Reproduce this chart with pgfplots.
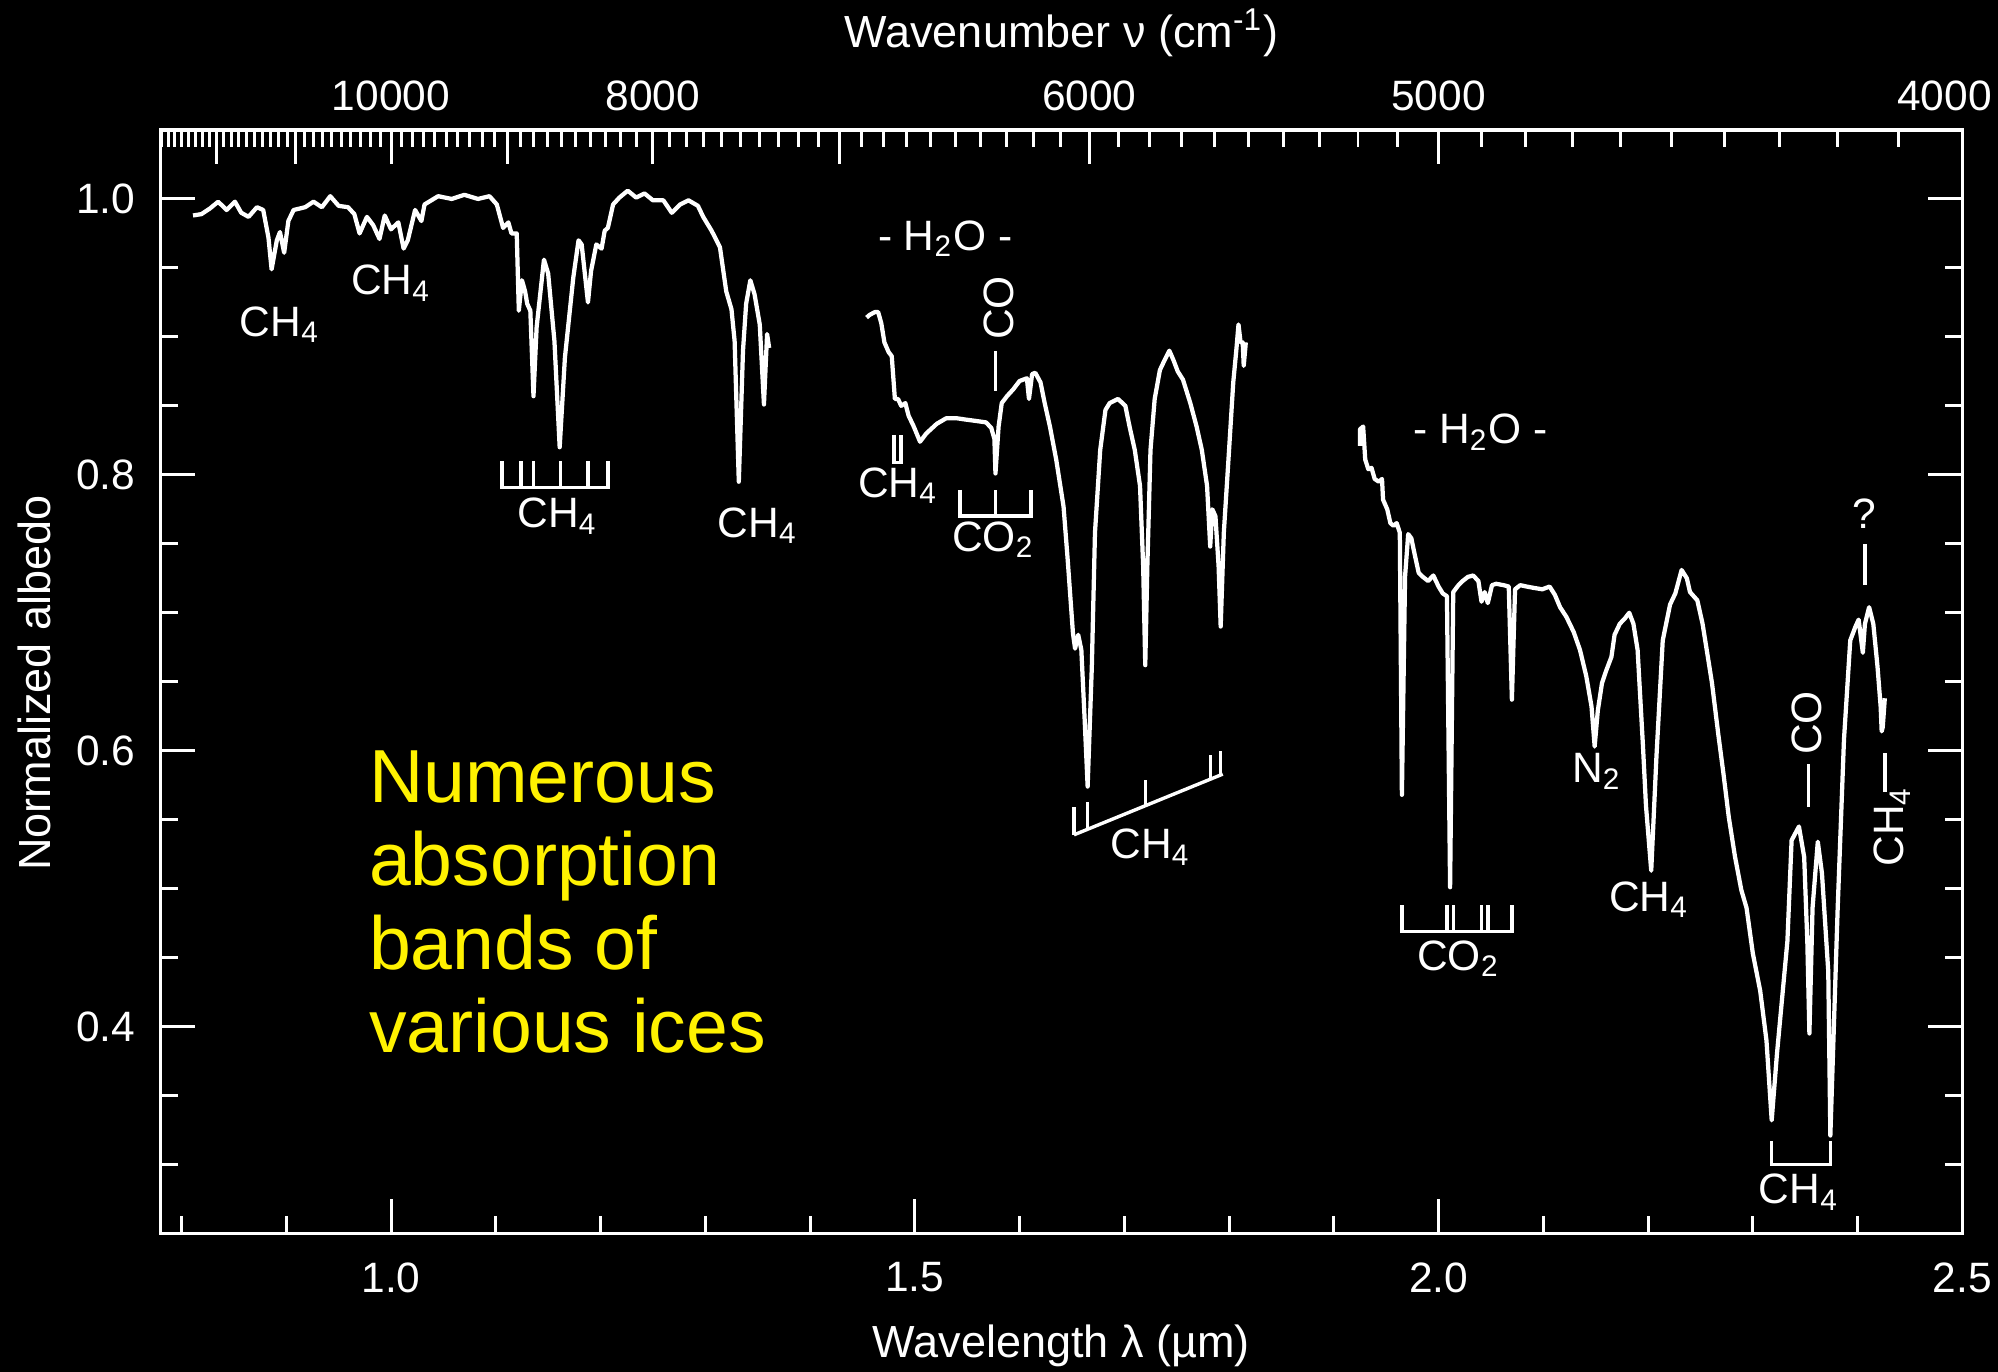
\documentclass[border=0pt]{standalone}
\usepackage{fontspec}
\setmainfont{Liberation Sans}
\usepackage{pgfplots}
\pgfplotsset{compat=1.18}
\begin{document}%
\def\minorlist{2.5}%
\foreach \n in {41,...,128}{\pgfmathsetmacro\lam{100/\n}\xdef\minorlist{\minorlist,\lam}}%
\begin{tikzpicture}[font=\fontsize{10}{12}\selectfont]
\useasboundingbox (0,0) rectangle (470.4pt,322.8pt);
\fill[black] (-2pt,-2pt) rectangle (472.4pt,324.8pt);
\pgfplotsset{
  myaxis/.style={
    at={(37.8pt,32.4pt)}, anchor=south west,
    scale only axis, width=424.2pt, height=259.8pt,
    xmin=0.78, xmax=2.5, ymin=0.25, ymax=1.05,
    axis line style={white, line width=0.8pt},
    tick style={white, line width=0.7pt},
    major tick length=8pt, minor tick length=4pt,
    tick align=inside,
    ticklabel style={font=\fontsize{10}{12}\selectfont, text=white},
  }
}
\begin{axis}[myaxis,
  xtick={1.0,1.5,2.0,2.5}, xticklabels={1.0,1.5,2.0,2.5},
  minor xtick={0.8,0.9,1.1,1.2,1.3,1.4,1.6,1.7,1.8,1.9,2.1,2.2,2.3,2.4},
  xtick pos=left, xticklabel pos=left,
  ytick={0.4,0.6,0.8,1.0}, yticklabels={0.4,0.6,0.8,1.0},
  minor ytick={0.3,0.35,0.45,0.5,0.55,0.65,0.7,0.75,0.85,0.9,0.95},
  ytick pos=both, yticklabel pos=left,
  xticklabel style={yshift=-3.3pt},
  yticklabel style={xshift=-2.4pt},
  clip=false,
]
\addplot[white, line width=1.0pt, line join=round] table {
0.811 0.988
0.819 0.989
0.827 0.993
0.835 0.998
0.843 0.992
0.851 0.998
0.857 0.990
0.864 0.987
0.872 0.994
0.878 0.992
0.883 0.972
0.886 0.949
0.891 0.970
0.894 0.976
0.898 0.961
0.902 0.984
0.907 0.992
0.918 0.994
0.926 0.998
0.934 0.994
0.942 1.002
0.950 0.995
0.959 0.994
0.965 0.989
0.970 0.975
0.977 0.987
0.983 0.981
0.989 0.971
0.994 0.988
1.000 0.978
1.007 0.983
1.012 0.964
1.016 0.970
1.023 0.992
1.029 0.984
1.032 0.996
1.045 1.002
1.058 1.000
1.070 1.003
1.083 1.000
1.094 1.002
1.101 0.996
1.107 0.979
1.112 0.983
1.115 0.975
1.120 0.975
1.122 0.919
1.125 0.941
1.128 0.933
1.130 0.924
1.133 0.919
1.136 0.857
1.139 0.907
1.146 0.956
1.150 0.946
1.156 0.897
1.161 0.820
1.166 0.885
1.174 0.943
1.179 0.970
1.182 0.967
1.188 0.925
1.191 0.948
1.196 0.967
1.201 0.964
1.204 0.977
1.207 0.979
1.212 0.996
1.218 1.001
1.226 1.006
1.234 1.001
1.242 1.004
1.250 0.999
1.260 0.999
1.268 0.990
1.276 0.996
1.284 0.999
1.293 0.995
1.298 0.987
1.306 0.977
1.314 0.965
1.320 0.933
1.325 0.920
1.328 0.897
1.332 0.795
1.336 0.890
1.339 0.924
1.343 0.941
1.347 0.931
1.352 0.909
1.356 0.851
1.359 0.902
1.361 0.892
};
\addplot[white, line width=1.0pt, line join=round] table {
1.454 0.914
1.457 0.916
1.462 0.918
1.465 0.918
1.468 0.910
1.471 0.896
1.475 0.889
1.478 0.886
1.481 0.855
1.484 0.855
1.487 0.850
1.491 0.852
1.494 0.843
1.499 0.835
1.505 0.824
1.511 0.830
1.521 0.837
1.530 0.841
1.540 0.841
1.549 0.840
1.559 0.839
1.568 0.838
1.573 0.834
1.576 0.826
1.577 0.801
1.580 0.835
1.583 0.852
1.588 0.857
1.594 0.862
1.600 0.868
1.607 0.870
1.609 0.855
1.612 0.873
1.615 0.874
1.620 0.867
1.624 0.852
1.629 0.835
1.635 0.811
1.642 0.777
1.646 0.738
1.651 0.685
1.653 0.674
1.656 0.684
1.659 0.673
1.662 0.625
1.665 0.574
1.669 0.661
1.672 0.758
1.677 0.818
1.682 0.847
1.686 0.852
1.694 0.855
1.701 0.850
1.705 0.835
1.710 0.818
1.715 0.792
1.718 0.734
1.720 0.662
1.722 0.734
1.725 0.818
1.729 0.855
1.734 0.876
1.739 0.884
1.743 0.890
1.747 0.883
1.751 0.875
1.756 0.869
1.763 0.852
1.769 0.835
1.774 0.818
1.779 0.792
1.782 0.748
1.784 0.775
1.787 0.770
1.790 0.734
1.792 0.690
1.795 0.758
1.800 0.818
1.804 0.867
1.807 0.891
1.809 0.909
1.811 0.896
1.813 0.896
1.814 0.879
1.816 0.896
};
\addplot[white, line width=1.0pt, line join=round] table {
1.925 0.821
1.925 0.833
1.928 0.835
1.930 0.811
1.933 0.804
1.936 0.805
1.939 0.797
1.943 0.795
1.946 0.797
1.947 0.782
1.951 0.775
1.954 0.765
1.957 0.763
1.960 0.765
1.963 0.758
1.965 0.568
1.968 0.726
1.971 0.757
1.974 0.754
1.977 0.743
1.981 0.729
1.985 0.726
1.990 0.723
1.995 0.727
2.000 0.719
2.004 0.714
2.008 0.712
2.011 0.501
2.014 0.715
2.019 0.720
2.023 0.723
2.028 0.726
2.033 0.727
2.038 0.723
2.041 0.708
2.044 0.715
2.047 0.707
2.051 0.720
2.055 0.721
2.062 0.720
2.067 0.719
2.070 0.637
2.073 0.717
2.078 0.720
2.084 0.719
2.091 0.718
2.099 0.717
2.106 0.719
2.111 0.713
2.116 0.704
2.122 0.697
2.129 0.686
2.135 0.673
2.141 0.654
2.146 0.632
2.149 0.603
2.152 0.629
2.156 0.649
2.160 0.658
2.165 0.668
2.168 0.684
2.173 0.692
2.178 0.696
2.182 0.700
2.186 0.692
2.190 0.673
2.195 0.605
2.198 0.560
2.203 0.513
2.208 0.596
2.214 0.680
2.221 0.706
2.226 0.714
2.232 0.731
2.237 0.725
2.240 0.715
2.247 0.709
2.252 0.692
2.256 0.673
2.261 0.649
2.267 0.612
2.272 0.583
2.277 0.552
2.283 0.523
2.289 0.499
2.294 0.486
2.300 0.453
2.307 0.426
2.313 0.390
2.318 0.332
2.323 0.380
2.333 0.462
2.337 0.535
2.344 0.545
2.349 0.523
2.352 0.462
2.354 0.395
2.357 0.486
2.362 0.534
2.366 0.511
2.372 0.440
2.374 0.321
2.381 0.486
2.387 0.608
2.393 0.680
2.398 0.690
2.401 0.695
2.403 0.683
2.405 0.671
2.407 0.692
2.411 0.704
2.415 0.692
2.419 0.661
2.422 0.632
2.423 0.614
2.424 0.617
2.426 0.638
};
% annotations
\draw[white, line width=0.8pt] (axis cs:1.106,0.810) -- (axis cs:1.106,0.791) -- (axis cs:1.207,0.791) -- (axis cs:1.207,0.810);
\draw[white, line width=0.8pt] (axis cs:1.124,0.791) -- (axis cs:1.124,0.810);
\draw[white, line width=0.8pt] (axis cs:1.136,0.791) -- (axis cs:1.136,0.810);
\draw[white, line width=0.8pt] (axis cs:1.162,0.791) -- (axis cs:1.162,0.810);
\draw[white, line width=0.8pt] (axis cs:1.188,0.791) -- (axis cs:1.188,0.810);
\draw[white, line width=0.8pt] (axis cs:1.480,0.829) -- (axis cs:1.480,0.809) -- (axis cs:1.487,0.809) -- (axis cs:1.487,0.829);
\draw[white, line width=0.8pt] (axis cs:1.543,0.789) -- (axis cs:1.543,0.770) -- (axis cs:1.611,0.770) -- (axis cs:1.611,0.789);
\draw[white, line width=0.8pt] (axis cs:1.577,0.770) -- (axis cs:1.577,0.789);
\draw[white, line width=0.8pt] (axis cs:1.577,0.861) -- (axis cs:1.577,0.890);
\draw[white, line width=0.8pt] (axis cs:1.652,0.539) -- (axis cs:1.794,0.583);
\draw[white, line width=0.8pt] (axis cs:1.652,0.539) -- (axis cs:1.652,0.559);
\draw[white, line width=0.8pt] (axis cs:1.665,0.543) -- (axis cs:1.665,0.563);
\draw[white, line width=0.8pt] (axis cs:1.720,0.560) -- (axis cs:1.720,0.579);
\draw[white, line width=0.8pt] (axis cs:1.782,0.579) -- (axis cs:1.782,0.597);
\draw[white, line width=0.8pt] (axis cs:1.792,0.582) -- (axis cs:1.792,0.600);
\draw[white, line width=0.8pt] (axis cs:1.965,0.488) -- (axis cs:1.965,0.469) -- (axis cs:2.070,0.469) -- (axis cs:2.070,0.488);
\draw[white, line width=0.8pt] (axis cs:2.008,0.469) -- (axis cs:2.008,0.488);
\draw[white, line width=0.8pt] (axis cs:2.014,0.469) -- (axis cs:2.014,0.488);
\draw[white, line width=0.8pt] (axis cs:2.041,0.469) -- (axis cs:2.041,0.488);
\draw[white, line width=0.8pt] (axis cs:2.047,0.469) -- (axis cs:2.047,0.488);
\draw[white, line width=0.8pt] (axis cs:2.318,0.317) -- (axis cs:2.318,0.300) -- (axis cs:2.374,0.300) -- (axis cs:2.374,0.317);
\draw[white, line width=0.8pt] (axis cs:2.353,0.559) -- (axis cs:2.353,0.590);
\draw[white, line width=0.8pt] (axis cs:2.407,0.720) -- (axis cs:2.407,0.750);
\draw[white, line width=0.8pt] (axis cs:2.426,0.570) -- (axis cs:2.426,0.598);
\node[text=white, inner sep=0pt] at (axis cs:0.894,0.909) {CH\textsubscript{4}};
\node[text=white, inner sep=0pt] at (axis cs:1.000,0.939) {CH\textsubscript{4}};
\node[text=white, inner sep=0pt] at (axis cs:1.159,0.770) {CH\textsubscript{4}};
\node[text=white, inner sep=0pt] at (axis cs:1.350,0.763) {CH\textsubscript{4}};
\node[text=white, inner sep=0pt] at (axis cs:1.484,0.792) {CH\textsubscript{4}};
\node[text=white, inner sep=0pt] at (axis cs:1.575,0.753) {CO\textsubscript{2}};
\node[text=white, inner sep=0pt] at (axis cs:1.529,0.971) {- H\textsubscript{2}O -};
\node[text=white, inner sep=0pt, rotate=90] at (axis cs:1.580,0.921) {CO};
\node[text=white, inner sep=0pt] at (axis cs:1.725,0.530) {CH\textsubscript{4}};
\node[text=white, inner sep=0pt] at (axis cs:2.040,0.831) {- H\textsubscript{2}O -};
\node[text=white, inner sep=0pt] at (axis cs:2.019,0.449) {CO\textsubscript{2}};
\node[text=white, inner sep=0pt] at (axis cs:2.151,0.585) {N\textsubscript{2}};
\node[text=white, inner sep=0pt] at (axis cs:2.201,0.492) {CH\textsubscript{4}};
\node[text=white, inner sep=0pt] at (axis cs:2.344,0.280) {CH\textsubscript{4}};
\node[text=white, inner sep=0pt, rotate=90] at (axis cs:2.352,0.620) {CO};
\node[text=white, inner sep=0pt] at (axis cs:2.406,0.772) {?};
\node[text=white, inner sep=0pt, rotate=90] at (axis cs:2.433,0.545) {CH\textsubscript{4}};
\end{axis}
\begin{axis}[myaxis,
  xtick={0.833333,0.909091,1,1.111111,1.25,1.428571,1.666667,2,2.5},
  xticklabels={,,10000,,8000,,6000,5000,{4000\hspace*{8.4pt}}},
  minor xtick/.expanded={\minorlist},
  xtick pos=right, xticklabel pos=right,
  ytick=\empty,
  xticklabel style={yshift=1pt},
]
\end{axis}
\node[text=white, inner sep=0pt, anchor=base, font=\fontsize{10.6}{12}\selectfont] at (249.9pt,311.7pt) {Wavenumber ν (cm\textsuperscript{-1})};
\node[text=white, inner sep=0pt, anchor=base, font=\fontsize{10.6}{12}\selectfont] at (249.9pt,3.3pt) {Wavelength λ (µm)};
\node[text=white, inner sep=0pt, anchor=base, rotate=90, font=\fontsize{10.6}{12}\selectfont] at (12pt,162pt) {Normalized albedo};
\begin{scope}[every node/.style={text=yellow, inner sep=0pt, anchor=base west, font=\fontsize{17.7}{19.6}\selectfont}]
\node at (86.7pt,133.8pt) {Numerous};
\node at (86.7pt,114.2pt) {absorption};
\node at (86.7pt,94.6pt) {bands of};
\node at (86.7pt,75.0pt) {various ices};
\end{scope}
\end{tikzpicture}
\end{document}
